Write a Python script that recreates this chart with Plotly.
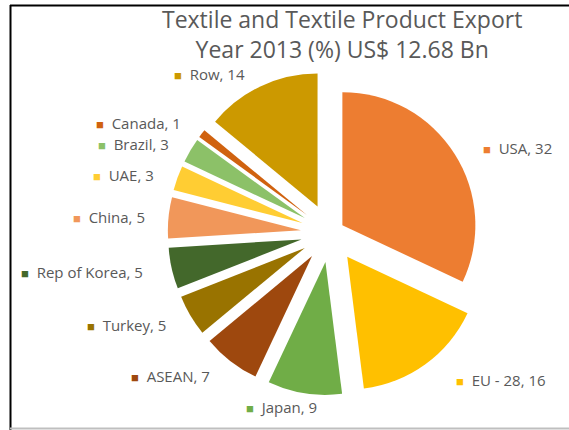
import plotly.graph_objects as go

# ---- data ----
countries = ["USA", "EU - 28", "Japan", "ASEAN", "Turkey", "Rep of Korea",
             "China", "UAE", "Brazil", "Canada", "Row"]
shares = [32, 16, 9, 7, 5, 5, 5, 3, 3, 1, 14]
colors = ["#ED7D31", "#FFC000", "#70AD47", "#9E480E", "#997300", "#43682B",
          "#F1975A", "#FFCD33", "#8CC168", "#D0620F", "#CC9900"]
title_lines = ["Textile and Textile Product Export", "Year 2013 (%) US$ 12.68 Bn"]

# ---- styling / layout positions (pixels in a 569x430 page) ----
W, H = 569, 430
pulls = [0.11] + [0.22] * (len(shares) - 1)
label_pos = [(482, 148), (455, 380), (245, 407), (130, 376), (86, 325), (20, 272),
             (72, 217), (92, 175), (97, 144), (95, 123), (173, 74)]

cx, cy, r = 330, 233, 133
half = r * (1 + max(pulls))
dom_x = [(cx - half) / W, (cx + half) / W]
dom_y = [(H - cy - half) / H, (H - cy + half) / H]

fig = go.Figure(go.Pie(
    labels=countries, values=shares, sort=False, direction="clockwise",
    rotation=0, pull=pulls, marker=dict(colors=colors, line=dict(width=0)),
    textinfo="none", hoverinfo="label+value", showlegend=False,
    domain=dict(x=dom_x, y=dom_y),
))

annotations = []
for name, val, col, (px, py) in zip(countries, shares, colors, label_pos):
    annotations.append(dict(
        x=px / W, y=1 - py / H, xref="paper", yref="paper",
        xanchor="left", yanchor="middle", showarrow=False, borderpad=0,
        text=f"<span style='color:{col};font-size:13px'>■</span>&nbsp;&nbsp;{name}, {val}",
        font=dict(family="Open Sans", size=15, color="#595959"),
    ))
annotations.append(dict(
    x=342 / W, y=1 - 34 / H, xref="paper", yref="paper",
    xanchor="center", yanchor="middle", showarrow=False, borderpad=0,
    text="<br>".join(title_lines),
    font=dict(family="Open Sans", size=23, color="#595959"),
))

shapes = [
    dict(type="line", xref="paper", yref="paper", x0=10.5 / W, x1=10.5 / W,
         y0=0, y1=1 - 5 / H, line=dict(color="#000000", width=2)),
    dict(type="line", xref="paper", yref="paper", x0=10 / W, x1=1,
         y0=1 - 5.5 / H, y1=1 - 5.5 / H, line=dict(color="#000000", width=2)),
    dict(type="line", xref="paper", yref="paper", x0=10 / W, x1=1,
         y0=1 - 428.5 / H, y1=1 - 428.5 / H, line=dict(color="#BFBFBF", width=2)),
]

fig.update_layout(
    width=W, height=H, margin=dict(l=0, r=0, t=0, b=0),
    paper_bgcolor="white", plot_bgcolor="white",
    annotations=annotations, shapes=shapes,
)
fig.write_html("out.html")
